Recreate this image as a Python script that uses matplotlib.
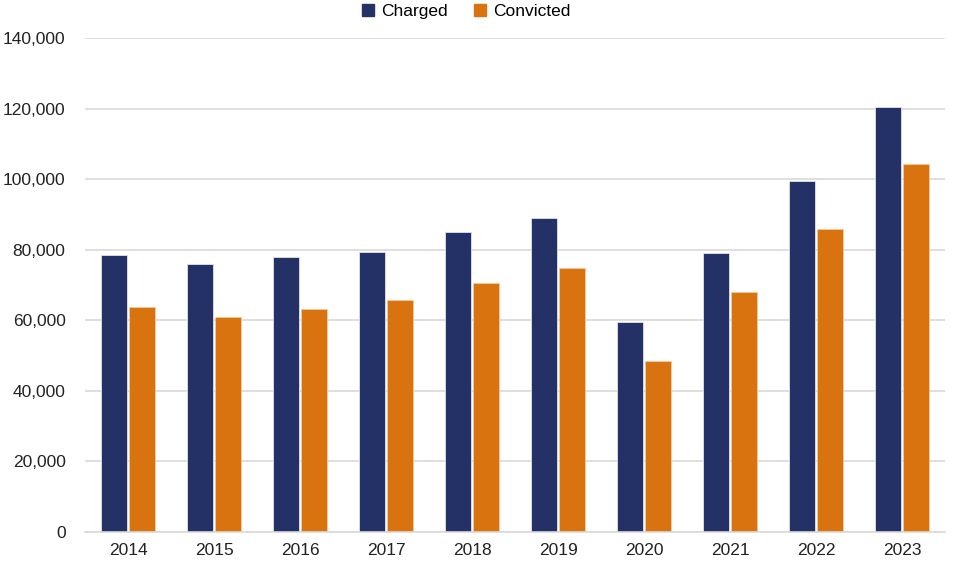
import numpy as np
import matplotlib.pyplot as plt
from matplotlib.ticker import FuncFormatter
from matplotlib.patches import Patch

plt.rcParams['font.family'] = ['Liberation Sans', 'DejaVu Sans']

# Data
years = ['2014', '2015', '2016', '2017', '2018', '2019', '2020', '2021', '2022', '2023']
charged = [78500, 76000, 77800, 79300, 85100, 89000, 59400, 79100, 99400, 120400]
convicted = [63900, 61000, 63200, 65700, 70500, 74700, 48500, 67900, 85900, 104300]

navy = '#243166'
orange = '#D9730F'

fig = plt.figure(figsize=(9.61, 5.64), dpi=100)
ax = fig.add_axes([85 / 961, 1 - 532 / 564, 860 / 961, 494 / 564])

x = np.arange(len(years))
w = 0.30
ax.bar(x - w / 2 - 0.012, charged, width=w, color=navy, edgecolor='#dfe3ee', linewidth=0.6)
ax.bar(x + w / 2 + 0.012, convicted, width=w, color=orange, edgecolor='#f3c9a0', linewidth=0.6)

ax.set_xlim(-0.5, len(years) - 0.5)
ax.set_ylim(0, 140000)
ax.set_yticks(np.arange(0, 140001, 20000))
ax.yaxis.set_major_formatter(FuncFormatter(lambda v, p: f'{int(v):,}'))
ax.set_xticks(x)
ax.set_xticklabels(years)
ax.tick_params(axis='both', length=0, labelsize=12.5, colors='#222222')
ax.tick_params(axis='y', pad=14)
ax.tick_params(axis='x', pad=8)

ax.grid(axis='y', color='#d9d9d9', linewidth=1.2)
ax.set_axisbelow(True)
for s in ['top', 'right', 'left']:
    ax.spines[s].set_visible(False)
ax.spines['bottom'].set_color('#d9d9d9')
ax.spines['bottom'].set_linewidth(1.2)

handles = [Patch(color=navy, label='Charged'), Patch(color=orange, label='Convicted')]
fig.legend(handles=handles, loc='upper center', bbox_to_anchor=(0.485, 1.02), ncol=2,
           frameon=False, fontsize=12.5, handlelength=0.7, handleheight=0.7,
           handletextpad=0.4, columnspacing=1.5)

fig.savefig('out.png', dpi=100)
